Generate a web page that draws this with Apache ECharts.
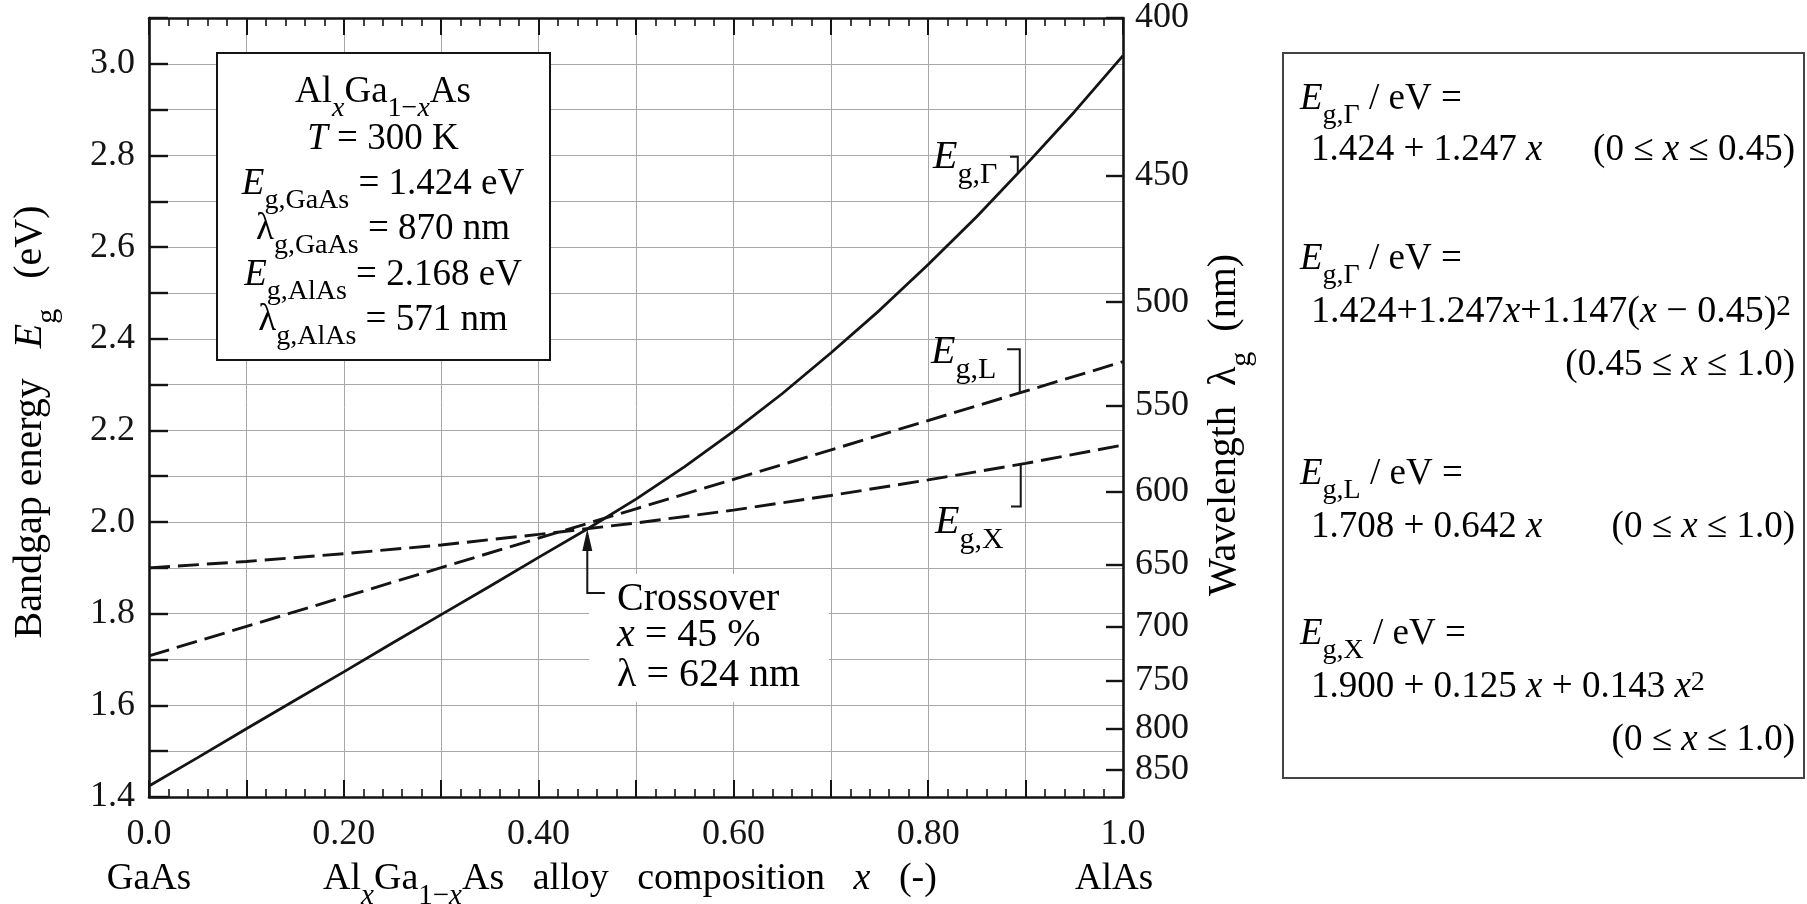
<!DOCTYPE html>
<html>
<head>
<meta charset="utf-8">
<script src="https://cdn.jsdelivr.net/npm/echarts@6/dist/echarts.min.js"></script>
<style>
  html, body { margin: 0; padding: 0; background: #fff; }
  #chart-root { width: 1807px; height: 904px; }
</style>
</head>
<body>
<div id="chart-root"></div>
<script>
// values
const compGamma = [0, 0.05, 0.10, 0.15, 0.20, 0.25, 0.30, 0.35, 0.40, 0.45, 0.50, 0.55, 0.60, 0.65, 0.70, 0.75, 0.80, 0.85, 0.90, 0.95, 1.00]
const egGamma = [1.424, 1.486, 1.549, 1.611, 1.673, 1.736, 1.798, 1.860, 1.923, 1.985, 2.050, 2.121, 2.198, 2.280, 2.369, 2.462, 2.562, 2.667, 2.779, 2.895, 3.018]
const compL = [0, 0.5, 1.0]
const egL = [1.708, 2.029, 2.350]
const compX = [0, 0.1, 0.2, 0.3, 0.4, 0.5, 0.6, 0.7, 0.8, 0.9, 1.0]
const egX = [1.900, 1.914, 1.931, 1.950, 1.973, 1.998, 2.026, 2.058, 2.092, 2.128, 2.168]

const xTickLabels = [0, 0.2, 0.4, 0.6, 0.8, 1.0]
const energyTickLabels = [1.4, 1.6, 1.8, 2.0, 2.2, 2.4, 2.6, 2.8, 3.0]
const wavelengthTicks = [400, 450, 500, 550, 600, 650, 700, 750, 800, 850]
const HC = 1240 // eV nm

const FONT = '"Liberation Serif", "Times New Roman", serif'
const INK = '#141414'

const pairs = (xs, ys) => xs.map((x, i) => [x, ys[i]])

let chart = window.echarts.init(document.getElementById('chart-root'))

const axisLine = { show: true, onZero: false, lineStyle: { color: INK, width: 2.6 } }
const gridLine = { show: true, lineStyle: { color: '#a8a8a8', width: 1 } }

let option = {
  animation: false,
  backgroundColor: '#fff',
  grid: { left: 149, right: 684, top: 18, bottom: 107, containLabel: false },
  xAxis: [
    {
      type: 'value', position: 'bottom', min: 0, max: 1, interval: 0.1,
      axisLine: axisLine,
      axisTick: { inside: true, length: 17, lineStyle: { color: INK, width: 2 } },
      minorTick: { show: true, splitNumber: 5, length: 8, lineStyle: { color: INK, width: 1.6 } },
      axisLabel: {
        customValues: xTickLabels, margin: 20,
        fontFamily: FONT, fontSize: 36, color: INK,
        formatter: v => (v === 0 || v === 1) ? v.toFixed(1) : v.toFixed(2)
      },
      splitLine: gridLine
    },
    {
      type: 'value', position: 'top', min: 0, max: 1, interval: 0.1,
      axisLine: axisLine,
      axisTick: { inside: true, length: 17, lineStyle: { color: INK, width: 2 } },
      minorTick: { show: true, splitNumber: 5, length: 8, lineStyle: { color: INK, width: 1.6 } },
      axisLabel: { show: false },
      splitLine: { show: false }
    }
  ],
  yAxis: [
    {
      type: 'value', position: 'left', min: 1.4, max: 3.1, interval: 0.1,
      axisLine: axisLine,
      axisTick: { inside: true, length: 19, lineStyle: { color: INK, width: 2.4 } },
      axisLabel: {
        customValues: energyTickLabels, margin: 14,
        fontFamily: FONT, fontSize: 36, color: INK,
        formatter: v => v.toFixed(1)
      },
      splitLine: gridLine
    },
    {
      type: 'value', position: 'right', min: 1.4, max: 3.1,
      axisLine: axisLine,
      axisTick: { inside: true, length: 17, customValues: wavelengthTicks.map(l => HC / l), lineStyle: { color: INK, width: 2.4 } },
      axisLabel: {
        customValues: wavelengthTicks.map(l => HC / l), margin: 12,
        fontFamily: FONT, fontSize: 36, color: INK,
        formatter: v => String(Math.round(HC / v))
      },
      splitLine: { show: false }
    }
  ],
  series: [
    {
      name: 'Eg,Gamma', type: 'line', showSymbol: false, z: 3,
      lineStyle: { color: INK, width: 2.8 },
      data: pairs(compGamma, egGamma)
    },
    {
      name: 'Eg,L', type: 'line', showSymbol: false, z: 3,
      lineStyle: { color: INK, width: 2.9, type: [21, 8] },
      data: pairs(compL, egL)
    },
    {
      name: 'Eg,X', type: 'line', showSymbol: false, z: 3,
      lineStyle: { color: INK, width: 2.9, type: [21, 8] },
      data: pairs(compX, egX)
    }
  ]
}
chart.setOption(option)

// ---- annotations ----
// rich styles for a main font size; s = subscript, p = superscript
const richCache = {}
function getRich (size) {
  if (richCache[size]) return richCache[size]
  const base = { fontFamily: FONT, color: INK, verticalAlign: 'top' }
  const lh = Math.round(size * 1.24)
  const ss = Math.round(size * 0.76)
  const slh = Math.round(ss * 1.1)
  return (richCache[size] = {
    n: { ...base, fontSize: size, lineHeight: lh },
    i: { ...base, fontSize: size, lineHeight: lh, fontStyle: 'italic' },
    s: { ...base, fontSize: ss, lineHeight: slh, padding: [Math.round(size * 0.57), 0, 0, 0] },
    si: { ...base, fontSize: ss, lineHeight: slh, padding: [Math.round(size * 0.57), 0, 0, 0], fontStyle: 'italic' },
    p: { ...base, fontSize: ss, lineHeight: slh, padding: [0, 0, Math.round(size * 0.1), 0] }
  })
}
// text whose main baseline sits at y = b
const txt = (x, b, text, align, size) => {
  size = size || 37
  return {
    type: 'text', x: x, y: b - Math.round(size * 0.70), z: 20,
    style: { text: text, rich: getRich(size), align: align || 'left', verticalAlign: 'top' }
  }
}
// rotated (reading upwards) title, x = left edge of block, cy = centre
const vtxt = (x, cy, text, size) => ({
  type: 'text', x: x, y: cy, rotation: Math.PI / 2, z: 20,
  style: { text: text, rich: getRich(size), align: 'center', verticalAlign: 'top' }
})
const toPx = p => chart.convertToPixel({ xAxisIndex: 0, yAxisIndex: 0 }, p)
const path = pts => ({
  type: 'polyline', z: 20,
  shape: { points: pts.map(toPx) },
  style: { stroke: INK, lineWidth: 2, fill: null }
})

const tip = toPx([0.45, 1.985])
const inset = [
  '{n|Al}{si|x}{n|Ga}{s|1−}{si|x}{n|As}',
  '{i|T}{n| = 300 K}',
  '{i|E}{s|g,GaAs}{n| = 1.424 eV}',
  '{n|λ}{s|g,GaAs}{n| = 870 nm}',
  '{i|E}{s|g,AlAs}{n| = 2.168 eV}',
  '{n|λ}{s|g,AlAs}{n| = 571 nm}'
]
const insetBase = [100, 147, 192, 237, 283, 328]

let graphic = [
  // inset parameter box
  { type: 'rect', z: 15, shape: { x: 217, y: 53, width: 333, height: 307 }, style: { fill: '#fff', stroke: INK, lineWidth: 2 } },
  // white patch behind crossover note
  { type: 'rect', z: 15, shape: { x: 589, y: 574, width: 240, height: 128 }, style: { fill: '#fff' } },
  // formula box
  { type: 'rect', z: 15, shape: { x: 1283, y: 53, width: 521, height: 725 }, style: { fill: '#fff', stroke: '#444', lineWidth: 2 } },

  // curve labels and their brackets
  txt(933, 165, '{i|E}{s|g,Γ}', 'left', 40),
  path([[0.884, 2.797], [0.892, 2.797], [0.892, 2.760]]),
  txt(931, 360, '{i|E}{s|g,L}', 'left', 40),
  path([[0.881, 2.377], [0.894, 2.377], [0.894, 2.282]]),
  txt(935, 530, '{i|E}{s|g,X}', 'left', 40),
  path([[0.885, 2.034], [0.895, 2.034], [0.895, 2.126]]),

  // crossover arrow
  path([[0.45, 1.945], [0.45, 1.845], [0.468, 1.845]]),
  { type: 'polygon', z: 20, shape: { points: [[tip[0], tip[1]], [tip[0] - 5, tip[1] + 22], [tip[0] + 5, tip[1] + 22]] }, style: { fill: INK } },
  txt(617, 607, '{n|Crossover}', 'left', 40),
  txt(617, 643, '{i|x}{n| = 45 %}', 'left', 40),
  txt(617, 683, '{n|λ = 624 nm}', 'left', 40),

  // axis titles
  txt(149, 887, '{n|GaAs}', 'center'),
  txt(1114, 887, '{n|AlAs}', 'center'),
  txt(630, 887, '{n|Al}{si|x}{n|Ga}{s|1−}{si|x}{n|As   alloy   composition   }{i|x}{n|   (-)}', 'center', 38),
  vtxt(10, 422, '{n|Bandgap energy   }{i|E}{s|g}{n|   (eV)}', 40),
  vtxt(1204, 425, '{n|Wavelength  λ}{s|g}{n|  (nm)}', 40),

  // formula box text
  txt(1300, 107, '{i|E}{s|g,Γ}{n| / eV =}'),
  txt(1311, 158, '{n|1.424 + 1.247 }{i|x}'),
  txt(1795, 158, '{n|(0 ≤ }{i|x}{n| ≤ 0.45)}', 'right'),
  txt(1300, 267, '{i|E}{s|g,Γ}{n| / eV =}'),
  txt(1311, 320, '{n|1.424+1.247}{i|x}{n|+1.147(}{i|x}{n| − 0.45)}{p|2}', 'left', 38),
  txt(1795, 373, '{n|(0.45 ≤ }{i|x}{n| ≤ 1.0)}', 'right'),
  txt(1300, 482, '{i|E}{s|g,L}{n| / eV =}'),
  txt(1311, 535, '{n|1.708 + 0.642 }{i|x}'),
  txt(1795, 535, '{n|(0 ≤ }{i|x}{n| ≤ 1.0)}', 'right'),
  txt(1300, 642, '{i|E}{s|g,X}{n| / eV =}'),
  txt(1311, 695, '{n|1.900 + 0.125 }{i|x}{n| + 0.143 }{i|x}{p|2}'),
  txt(1795, 748, '{n|(0 ≤ }{i|x}{n| ≤ 1.0)}', 'right')
]
inset.forEach((t, k) => graphic.push(txt(383, insetBase[k], t, 'center')))

chart.setOption({ graphic: graphic })
</script>
</body>
</html>
